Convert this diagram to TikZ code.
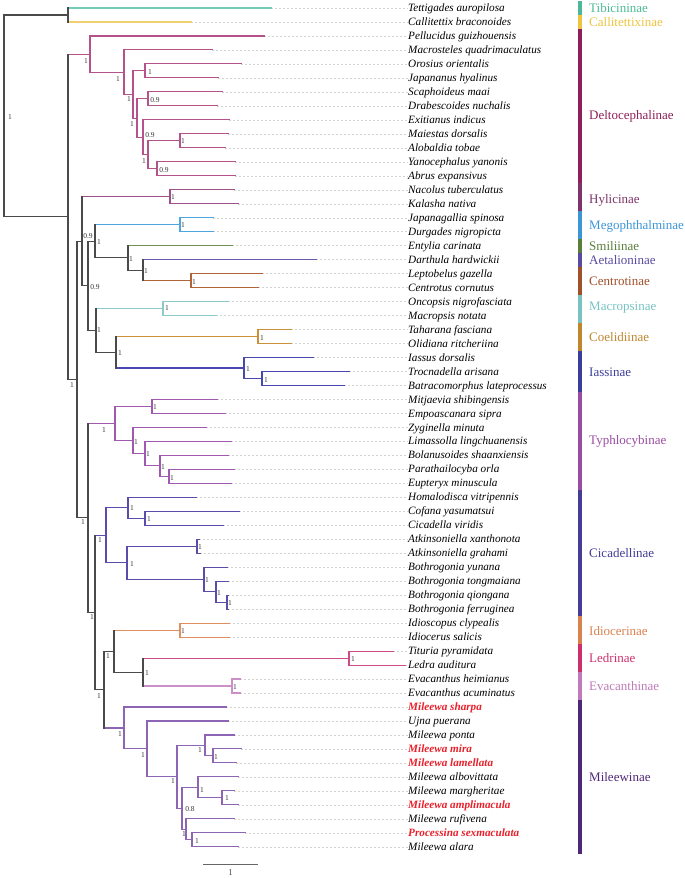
\documentclass[tikz,border=0pt]{standalone}
\usepackage{fontspec}
\setmainfont{Liberation Serif}
\usepackage{tikz}

% backbone and clade colours
\definecolor{bb}{HTML}{4A4A4A}
\definecolor{cTib}{HTML}{6FCDB8}
\definecolor{cCal}{HTML}{F0D070}
\definecolor{cDel}{HTML}{B5528C}
\definecolor{cHyl}{HTML}{A0508A}
\definecolor{cMeg}{HTML}{4DA6DE}
\definecolor{cSmi}{HTML}{6F9050}
\definecolor{cAet}{HTML}{6A5AB0}
\definecolor{cCen}{HTML}{B0643A}
\definecolor{cMac}{HTML}{8ACACA}
\definecolor{cCoe}{HTML}{C8913A}
\definecolor{cIas}{HTML}{4848B0}
\definecolor{cTyp}{HTML}{A058B0}
\definecolor{cCic}{HTML}{5A4CAA}
\definecolor{cIdi}{HTML}{E09060}
\definecolor{cLed}{HTML}{D04A8A}
\definecolor{cEva}{HTML}{CC90C8}
\definecolor{cMil}{HTML}{8E64B4}
% bar colours
\definecolor{gTib}{HTML}{4DB897}
\definecolor{gCal}{HTML}{EEC440}
\definecolor{gDel}{HTML}{8E1F5A}
\definecolor{gHyl}{HTML}{7E3468}
\definecolor{gMeg}{HTML}{3C96D6}
\definecolor{gSmi}{HTML}{5A7E3A}
\definecolor{gAet}{HTML}{5A4AA0}
\definecolor{gCen}{HTML}{A0502A}
\definecolor{gMac}{HTML}{78C2C2}
\definecolor{gCoe}{HTML}{C0862E}
\definecolor{gIas}{HTML}{3A3E9A}
\definecolor{gTyp}{HTML}{9A4CA0}
\definecolor{gCic}{HTML}{443C96}
\definecolor{gIdi}{HTML}{D8824E}
\definecolor{gLed}{HTML}{CC2F6C}
\definecolor{gEva}{HTML}{C07ABA}
\definecolor{gMil}{HTML}{4E2878}
\definecolor{newred}{HTML}{E8202A}

\begin{document}
\begin{tikzpicture}[
    x=1pt, y=-1pt,
    branch style/.style={line width=1.1pt, line cap=rect},
    leader style/.style={line width=0.4pt, gray!35, dash pattern=on 2pt off 2pt},
    taxon style/.style={font=\fontsize{11.2}{13}\selectfont\itshape, inner sep=0pt},
    new style/.style={font=\fontsize{11.2}{13}\selectfont\itshape\bfseries, text=newred, inner sep=0pt},
    boot style/.style={font=\fontsize{7.5}{8}\selectfont, text=black!80, inner sep=0pt},
    group style/.style={font=\fontsize{13}{15}\selectfont, anchor=west, inner sep=0pt},
    scale style/.style={line width=0.8pt, black!60}
]
\useasboundingbox (0,0) rectangle (685,878);

% Internal nodes of the tree
\coordinate (R) at (4,115.92);
\coordinate (A) at (68,14.99);
\coordinate (B) at (68,216.85);
\coordinate (DA) at (90,54.09);
\coordinate (DB) at (124,72.22);
\coordinate (DC) at (133,94.50);
\coordinate (DD) at (145,70.91);
\coordinate (DE) at (137,118.09);
\coordinate (DF) at (148,98.87);
\coordinate (DG) at (143,137.32);
\coordinate (DH) at (148,154.79);
\coordinate (DI) at (180,140.81);
\coordinate (DJ) at (157,168.77);
\coordinate (P) at (77,379.61);
\coordinate (D) at (82,241.29);
\coordinate (HY) at (170,196.73);
\coordinate (E) at (88,285.85);
\coordinate (F) at (95,241.29);
\coordinate (MG) at (180,224.69);
\coordinate (H) at (128,257.89);
\coordinate (I) at (143,270.13);
\coordinate (J) at (191,280.61);
\coordinate (G) at (96,330.42);
\coordinate (K) at (163,308.57);
\coordinate (L) at (116,352.26);
\coordinate (M) at (258,336.53);
\coordinate (N) at (244,367.99);
\coordinate (O) at (262,378.47);
\coordinate (Q) at (88,517.94);
\coordinate (T1) at (115,423.47);
\coordinate (T2) at (152,406.43);
\coordinate (T3) at (133,440.51);
\coordinate (T4) at (145,453.61);
\coordinate (T5) at (160,465.85);
\coordinate (T6) at (169,476.33);
\coordinate (R2) at (95,612.42);
\coordinate (C1) at (106,535.31);
\coordinate (C2) at (128,507.79);
\coordinate (C3) at (145,518.27);
\coordinate (C4) at (127,562.83);
\coordinate (C5) at (197,546.23);
\coordinate (C6) at (204,579.43);
\coordinate (C7) at (216,591.67);
\coordinate (C8) at (227,602.15);
\coordinate (S) at (104,689.53);
\coordinate (U) at (114,651.08);
\coordinate (ID) at (180,630.11);
\coordinate (V) at (143,672.05);
\coordinate (LE) at (349,658.07);
\coordinate (EV) at (232,686.03);
\coordinate (W) at (124,727.97);
\coordinate (X) at (147,748.94);
\coordinate (Y) at (177,776.90);
\coordinate (Z) at (205,745.45);
\coordinate (Z2) at (213,755.93);
\coordinate (AA) at (182,808.36);
\coordinate (AB) at (198,787.38);
\coordinate (AC) at (222,797.87);
\coordinate (AD) at (186,829.33);
\coordinate (AE) at (192,839.81);

% Tips, names and dashed leaders
\foreach \i/\ex/\up/\col/\sty/\taxon in {
    1/271/A/cTib/taxon style/{Tettigades auropilosa},
    2/191/A/cCal/taxon style/{Callitettix braconoides},
    3/264/DA/cDel/taxon style/{Pellucidus guizhouensis},
    4/212/DB/cDel/taxon style/{Macrosteles quadrimaculatus},
    5/241/DD/cDel/taxon style/{Orosius orientalis},
    6/218/DD/cDel/taxon style/{Japananus hyalinus},
    7/222/DF/cDel/taxon style/{Scaphoideus maai},
    8/217/DF/cDel/taxon style/{Drabescoides nuchalis},
    9/229/DG/cDel/taxon style/{Exitianus indicus},
    10/228/DI/cDel/taxon style/{Maiestas dorsalis},
    11/225/DI/cDel/taxon style/{Alobaldia tobae},
    12/235/DJ/cDel/taxon style/{Yanocephalus yanonis},
    13/235/DJ/cDel/taxon style/{Abrus expansivus},
    14/234/HY/cHyl/taxon style/{Nacolus tuberculatus},
    15/238/HY/cHyl/taxon style/{Kalasha nativa},
    16/213/MG/cMeg/taxon style/{Japanagallia spinosa},
    17/213/MG/cMeg/taxon style/{Durgades nigropicta},
    18/232/H/cSmi/taxon style/{Entylia carinata},
    19/316/I/cAet/taxon style/{Darthula hardwickii},
    20/262/J/cCen/taxon style/{Leptobelus gazella},
    21/258/J/cCen/taxon style/{Centrotus cornutus},
    22/228/K/cMac/taxon style/{Oncopsis nigrofasciata},
    23/216/K/cMac/taxon style/{Macropsis notata},
    24/291/M/cCoe/taxon style/{Taharana fasciana},
    25/291/M/cCoe/taxon style/{Olidiana ritcheriina},
    26/313/N/cIas/taxon style/{Iassus dorsalis},
    27/349/O/cIas/taxon style/{Trocnadella arisana},
    28/344/O/cIas/taxon style/{Batracomorphus lateprocessus},
    29/217/T2/cTyp/taxon style/{Mitjaevia shibingensis},
    30/225/T2/cTyp/taxon style/{Empoascanara sipra},
    31/206/T3/cTyp/taxon style/{Zyginella minuta},
    32/231/T4/cTyp/taxon style/{Limassolla lingchuanensis},
    33/228/T5/cTyp/taxon style/{Bolanusoides shaanxiensis},
    34/234/T6/cTyp/taxon style/{Parathailocyba orla},
    35/231/T6/cTyp/taxon style/{Eupteryx minuscula},
    36/196/C2/cCic/taxon style/{Homalodisca vitripennis},
    37/239/C3/cCic/taxon style/{Cofana yasumatsui},
    38/223/C3/cCic/taxon style/{Cicadella viridis},
    39/199/C5/cCic/taxon style/{Atkinsoniella xanthonota},
    40/200/C5/cCic/taxon style/{Atkinsoniella grahami},
    41/227/C6/cCic/taxon style/{Bothrogonia yunana},
    42/228/C7/cCic/taxon style/{Bothrogonia tongmaiana},
    43/228/C8/cCic/taxon style/{Bothrogonia qiongana},
    44/228/C8/cCic/taxon style/{Bothrogonia ferruginea},
    45/229/ID/cIdi/taxon style/{Idioscopus clypealis},
    46/229/ID/cIdi/taxon style/{Idiocerus salicis},
    47/393/LE/cLed/taxon style/{Tituria pyramidata},
    48/405/LE/cLed/taxon style/{Ledra auditura},
    49/240/EV/cEva/taxon style/{Evacanthus heimianus},
    50/240/EV/cEva/taxon style/{Evacanthus acuminatus},
    51/226/W/cMil/new style/{Mileewa sharpa},
    52/228/X/cMil/taxon style/{Ujna puerana},
    53/234/Z/cMil/taxon style/{Mileewa ponta},
    54/241/Z2/cMil/new style/{Mileewa mira},
    55/236/Z2/cMil/new style/{Mileewa lamellata},
    56/238/AB/cMil/taxon style/{Mileewa albovittata},
    57/234/AC/cMil/taxon style/{Mileewa margheritae},
    58/238/AC/cMil/new style/{Mileewa amplimacula},
    59/234/AD/cMil/taxon style/{Mileewa rufivena},
    60/245/AE/cMil/new style/{Processina sexmaculata},
    61/238/AE/cMil/taxon style/{Mileewa alara}} {
    \coordinate (t\i) at (\ex,{8+13.98*(\i-1)});
    \node[\sty, anchor=base west] (lab\i) at (408,{8+13.98*(\i-1)+3.6}) {\taxon};
    \draw[leader style] (t\i) -- (t\i -| lab\i.west);
    \draw[branch style, \col] (\up |- t\i) -- (t\i);
}

% Horizontal branches between internal nodes
\foreach \p/\c/\col in {R/A/bb, R/B/bb, B/DA/cDel, B/P/bb, DA/DB/cDel, DB/DC/cDel,
    DC/DD/cDel, DC/DE/cDel, DE/DF/cDel, DE/DG/cDel, DG/DH/cDel, DH/DI/cDel, DH/DJ/cDel,
    P/D/bb, P/Q/bb, D/HY/cHyl, D/E/bb, E/F/bb, E/G/bb, F/MG/cMeg, F/H/bb, H/I/bb,
    I/J/cCen, G/K/cMac, G/L/bb, L/M/cCoe, L/N/cIas, N/O/cIas,
    Q/T1/cTyp, T1/T2/cTyp, T1/T3/cTyp, T3/T4/cTyp, T4/T5/cTyp, T5/T6/cTyp,
    Q/R2/bb, R2/C1/cCic, C1/C2/cCic, C2/C3/cCic, C1/C4/cCic, C4/C5/cCic, C4/C6/cCic,
    C6/C7/cCic, C7/C8/cCic, R2/S/bb, S/U/bb, S/W/cMil, U/ID/cIdi, U/V/bb,
    V/LE/cLed, V/EV/cEva, W/X/cMil, X/Y/cMil, Y/Z/cMil, Z/Z2/cMil, Y/AA/cMil,
    AA/AB/cMil, AB/AC/cMil, AA/AD/cMil, AD/AE/cMil} {
    \draw[branch style, \col] (\p |- \c) -- (\c);
}

% Vertical bars of the internal nodes
\foreach \n/\a/\b/\col in {R/A/B/bb, A/t1/t2/bb, B/DA/P/bb, DA/t3/DB/cDel, DB/t4/DC/cDel,
    DC/DD/DE/cDel, DD/t5/t6/cDel, DE/DF/DG/cDel, DF/t7/t8/cDel, DG/t9/DH/cDel,
    DH/DI/DJ/cDel, DI/t10/t11/cDel, DJ/t12/t13/cDel, P/D/Q/bb, D/HY/E/bb,
    HY/t14/t15/cHyl, E/F/G/bb, F/MG/H/bb, MG/t16/t17/cMeg, H/t18/I/bb, I/t19/J/bb,
    J/t20/t21/cCen, G/K/L/bb, K/t22/t23/cMac, L/M/N/bb, M/t24/t25/cCoe,
    N/t26/O/cIas, O/t27/t28/cIas, Q/T1/R2/bb, T1/T2/T3/cTyp, T2/t29/t30/cTyp,
    T3/t31/T4/cTyp, T4/t32/T5/cTyp, T5/t33/T6/cTyp, T6/t34/t35/cTyp,
    R2/C1/S/bb, C1/C2/C4/cCic, C2/t36/C3/cCic, C3/t37/t38/cCic, C4/C5/C6/cCic,
    C5/t39/t40/cCic, C6/t41/C7/cCic, C7/t42/C8/cCic, C8/t43/t44/cCic,
    S/U/W/bb, U/ID/V/bb, ID/t45/t46/cIdi, V/LE/EV/bb, LE/t47/t48/cLed,
    EV/t49/t50/cEva, W/t51/X/cMil, X/t52/Y/cMil, Y/Z/AA/cMil, Z/t53/Z2/cMil,
    Z2/t54/t55/cMil, AA/AB/AD/cMil, AB/t56/AC/cMil, AC/t57/t58/cMil,
    AD/t59/AE/cMil, AE/t60/t61/cMil} {
    \draw[branch style, \col] (\n |- \a) -- (\n |- \b);
}

% Posterior support values
\foreach \x/\y/\v [count=\k] in {10/117/1, 86/61/1, 118/79/1, 129/99/1, 150/72/1,
    132/124/1, 155/100/0.9, 150/135/0.9, 144/161/1, 183/141/1, 164/170/0.9,
    173/197/1, 183/225/1, 88/236/0.9, 99/242/1, 95/287/0.9, 131/259/1, 146/271/1,
    194/282/1, 167/308/1, 99/330/1, 262/338/1, 120/353/1, 248/369/1, 266/380/1,
    72/385/1, 83/522/1, 104/430/1, 155/407/1, 136/442/1, 148/454/1, 163/467/1,
    172/478/1, 100/540/1, 132/508/1, 149/519/1, 132/564/1, 200/547/1, 207/580/1,
    219/593/1, 230/603/1, 92/617/1, 99/696/1, 108/656/1, 183/631/1, 147/673/1,
    353/659/1, 235/687/1, 120/734/1, 143/755/1, 173/781/1, 200/750/1, 216/757/1,
    190/809/0.8, 202/790/1, 227/798/1, 184/834/1, 197/841/1} {
    \node[boot style] (boot\k) at (\x,\y) {\v};
}

% Subfamily bars and names
\foreach \first/\last/\gcol/\ly/\grp in {1/1/gTib/8/Tibicininae, 2/2/gCal/22/Callitettixinae,
    3/13/gDel/116/Deltocephalinae, 14/15/gHyl/200/Hylicinae,
    16/17/gMeg/226/Megophthalminae, 18/18/gSmi/246/Smiliinae,
    19/19/gAet/260/Aetalioninae, 20/21/gCen/281/Centrotinae,
    22/23/gMac/308/Macropsinae, 24/25/gCoe/337/Coelidiinae,
    26/28/gIas/372/Iassinae, 29/35/gTyp/441/Typhlocybinae,
    36/44/gCic/553/Cicadellinae, 45/46/gIdi/631/Idiocerinae,
    47/48/gLed/658/Ledrinae, 49/50/gEva/686/Evacanthinae,
    51/61/gMil/777/Mileewinae} {
    \fill[\gcol] (578,{8+13.98*(\first-1)-6.99}) rectangle (582,{8+13.98*(\last-1)+6.99});
    \node[group style, text=\gcol] (grp\first) at (589,\ly) {\grp};
}

% Scale bar
\coordinate (s0) at (203,864);
\coordinate (s1) at (258,864);
\draw[scale style] (s0) -- (s1) node[midway, below=2pt, font=\fontsize{9}{10}\selectfont, text=black!70] (slab) {1};
\end{tikzpicture}
\end{document}
